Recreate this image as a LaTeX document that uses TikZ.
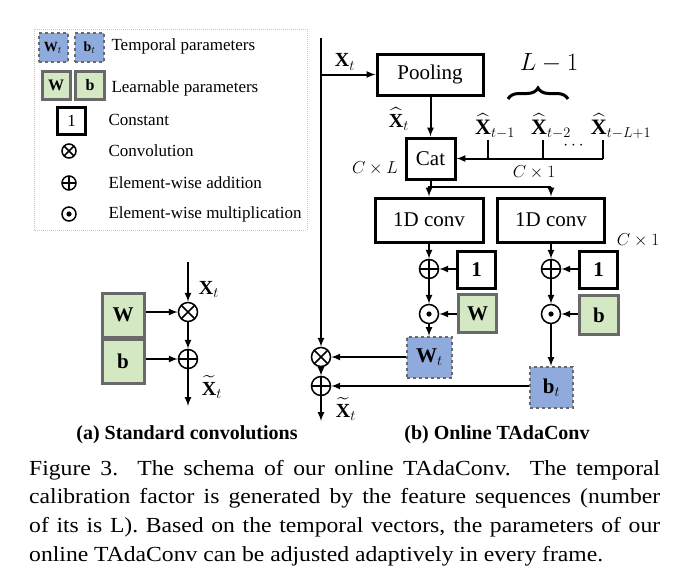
\documentclass[tikz,border=0pt]{standalone}
\usepackage{amsmath}
\usepackage{fontspec}
\setmainfont{Liberation Serif}
\newfontfamily\capfont[FakeStretch=1.1]{Liberation Serif}
\usetikzlibrary{decorations.pathreplacing}
\tikzset{>=latex}

\definecolor{tblue}{RGB}{143,170,220}
\definecolor{tgreen}{RGB}{213,232,196}
\definecolor{tgray}{RGB}{105,105,105}

\tikzset{
  blk/.style={draw=black, line width=3pt, fill=white, inner sep=0pt},
  tpar/.style={draw=tgray, dashed, line width=2pt, fill=tblue, inner sep=0pt},
  lpar/.style={draw=tgray, line width=3pt, fill=tgreen, inner sep=0pt},
  op/.style={circle, draw, line width=1.5pt, minimum size=#1, inner sep=0pt},
  op/.default=19pt,
  opconv/.style={op=#1, path picture={
      \draw[line width=1.5pt] (path picture bounding box.north west) -- (path picture bounding box.south east)
                              (path picture bounding box.north east) -- (path picture bounding box.south west);}},
  opconv/.default=19pt,
  opadd/.style={op=#1, path picture={
      \draw[line width=1.5pt] (path picture bounding box.north) -- (path picture bounding box.south)
                              (path picture bounding box.west) -- (path picture bounding box.east);}},
  opadd/.default=19pt,
  opmul/.style={op=#1, path picture={
      \fill (path picture bounding box.center) circle (2.6pt);}},
  opmul/.default=19pt,
  wire/.style={line width=2pt},
  legtxt/.style={anchor=west, font=\fontsize{17}{20}\selectfont},
  boxtxt/.style={font=\fontsize{21}{24}\selectfont},
  mlbl/.style={font=\fontsize{20}{22}\selectfont},
  hlbl/.style={font=\fontsize{22}{24}\selectfont, inner sep=0pt},
  slbl/.style={font=\fontsize{17}{20}\selectfont},
  subcap/.style={font=\fontsize{20}{23}\selectfont\bfseries},
}

\begin{document}
\begin{tikzpicture}[x=1pt, y=-1pt]
\useasboundingbox (0,0) rectangle (690,587);

  % Legend
  \draw[gray!45, densely dotted, line width=1pt] (34,29) rectangle (307,230);
  \node[tpar, minimum width=29pt, minimum height=29pt, font=\fontsize{14}{15}\selectfont] (lgWt) at (53,47.5) {$\mathbf{W}_t$};
  \node[tpar, minimum width=29pt, minimum height=29pt, font=\fontsize{14}{15}\selectfont] (lgbt) at (89.5,47.5) {$\mathbf{b}_t$};
  \node[lpar, minimum width=28pt, minimum height=28pt, font=\fontsize{16}{18}\selectfont\bfseries] (lgW) at (56,85) {W};
  \node[lpar, minimum width=29pt, minimum height=28pt, font=\fontsize{16}{18}\selectfont\bfseries] (lgb) at (90,85) {b};
  \node[blk, line width=2.5pt, minimum width=28pt, minimum height=27pt, font=\fontsize{17}{18}\selectfont] (lgone) at (71.5,121) {1};
  \node[opconv=14pt] (lgconv) at (69,151) {};
  \node[opadd=14pt]  (lgadd)  at (69,183) {};
  \node[opmul=14pt]  (lgmul)  at (69,214) {};
  \node[legtxt] (tTemp)  at (108,46)  {Temporal parameters};
  \node[legtxt] (tLearn) at (108,88)  {Learnable parameters};
  \node[legtxt] (tConst) at (105,120) {Constant};
  \node[legtxt] (tConv)  at (105,151) {Convolution};
  \node[legtxt] (tAdd)   at (105,183) {Element-wise addition};
  \node[legtxt] (tMul)   at (105,214) {Element-wise multiplication};

  % (a) standard convolution
  \coordinate (aIn)  at (188,262);
  \coordinate (aOut) at (188,406);
  \node[opconv] (aConv) at (188,312) {};
  \node[opadd]  (aAdd)  at (188,359) {};
  \node[lpar, minimum width=42pt, minimum height=44pt, boxtxt] (aW) at (123,315) {\bfseries W};
  \node[lpar, minimum width=42pt, minimum height=44pt, boxtxt] (ab) at (123,361) {\bfseries b};
  \draw[wire,->] (aIn) -- (aConv);
  \draw[wire,->] (aConv) -- (aAdd);
  \draw[wire,->] (aAdd) -- (aOut);
  \draw[wire,->] (aW.east |- aConv) -- (aConv);
  \draw[wire,->] (ab.east |- aAdd) -- (aAdd);
  \node[mlbl] (aXin)  at (209,289) {$\mathbf{X}_t$};
  \node[mlbl] (aXout) at (212,387) {$\widetilde{\mathbf{X}}_t$};
  \node[subcap] (capA) at (187,435) {(a) Standard convolutions};

  % (b) online TAdaConv
  \coordinate (bTop) at (321,38);
  \coordinate (bOut) at (321,421);
  \node[opconv] (bConv) at (321,357) {};
  \node[opadd]  (bAdd)  at (321,386) {};
  \node[blk, minimum width=106pt, minimum height=41pt, boxtxt] (pool) at (430,74.5) {Pooling};
  \node[blk, minimum width=49pt, minimum height=41pt, boxtxt] (cat) at (430.5,158.5) {Cat};
  \node[blk, minimum width=108pt, minimum height=44pt, boxtxt] (convL) at (429,220) {1D conv};
  \node[blk, minimum width=107pt, minimum height=44pt, boxtxt] (convR) at (551,220) {1D conv};
  \draw[wire,->] (bTop) -- (bConv);
  \draw[wire,->] (bConv) -- (bAdd);
  \draw[wire,->] (bAdd) -- (bOut);
  \draw[wire,->] (bTop |- pool) -- (pool.west);
  \draw[wire,->] (pool.south -| cat.north) -- (cat.north);
  \node[mlbl] (bXin) at (345,62) {$\mathbf{X}_t$};
  \node[mlbl] (bXh)  at (399,119) {$\widehat{\mathbf{X}}_t$};

  % previous features
  \coordinate (h1) at (488,140);
  \coordinate (h2) at (543,140);
  \coordinate (h3) at (603,140);
  \draw[wire,->] (h3 |- cat.east) -- (cat.east);
  \foreach \h in {h1,h2,h3}
    \draw[wire] (\h) -- (\h |- cat.east);
  \node[hlbl] (xh1) at (495,126) {$\widehat{\mathbf{X}}_{t-1}$};
  \node[hlbl] (xh2) at (551,126) {$\widehat{\mathbf{X}}_{t-2}$};
  \node[hlbl] (xh3) at (621,126) {$\widehat{\mathbf{X}}_{t-L+1}$};
  \node[font=\fontsize{16}{18}\selectfont] (dots) at (575,146) {$\cdots$};
  \draw[decorate, decoration={brace, amplitude=11pt}, line width=3pt] (508,99) -- (568,99);
  \node[font=\fontsize{25}{28}\selectfont] (Lm1) at (549,63) {$L-1$};
  \node[slbl] (cL)  at (375,168) {$C\times L$};
  \node[slbl] (c1a) at (534,172) {$C\times 1$};
  \node[slbl] (c1b) at (638,240) {$C\times 1$};

  % split to the two 1D convs
  \coordinate (sp) at (cat.south |- 0,187);
  \draw[wire] (cat.south) -- (sp) -- (sp -| convR.north);
  \draw[wire,->] (sp) -- (sp -| convL.north) -- (convL.north);
  \draw[wire,->] (sp -| convR.north) -- (convR.north);

  % left column: weight calibration
  \node[opadd] (lAdd) at (429,269) {};
  \node[opmul] (lMul) at (429,314) {};
  \node[blk, minimum width=38pt, minimum height=37pt, boxtxt] (lOne) at (476.5,270) {\bfseries 1};
  \node[lpar, minimum width=38pt, minimum height=38pt, boxtxt] (lW) at (477.5,313.5) {\bfseries W};
  \node[tpar, minimum width=45pt, minimum height=41pt, boxtxt] (Wt) at (429.5,357.5) {$\mathbf{W}_t$};
  \draw[wire,->] (convL.south) -- (lAdd);
  \draw[wire,->] (lAdd) -- (lMul);
  \draw[wire,->] (lMul) -- (lMul |- Wt.north);
  \draw[wire,->] (lOne.west |- lAdd) -- (lAdd);
  \draw[wire,->] (lW.west |- lMul) -- (lMul);
  \draw[wire,->] (Wt.west |- bConv) -- (bConv);

  % right column: bias calibration
  \node[opadd] (rAdd) at (551,269) {};
  \node[opmul] (rMul) at (551,314) {};
  \node[blk, minimum width=38pt, minimum height=37pt, boxtxt] (rOne) at (598.5,270) {\bfseries 1};
  \node[lpar, minimum width=39pt, minimum height=39pt, boxtxt] (rb) at (599,315) {\bfseries b};
  \node[tpar, minimum width=43pt, minimum height=41pt, boxtxt] (bt) at (551.5,387.5) {$\mathbf{b}_t$};
  \draw[wire,->] (convR.south) -- (rAdd);
  \draw[wire,->] (rAdd) -- (rMul);
  \draw[wire,->] (rMul) -- (rMul |- bt.north);
  \draw[wire,->] (rOne.west |- rAdd) -- (rAdd);
  \draw[wire,->] (rb.west |- rMul) -- (rMul);
  \draw[wire,->] (bt.west |- bAdd) -- (bAdd);
  \node[mlbl] (bXout) at (346,409) {$\widetilde{\mathbf{X}}_t$};
  \node[subcap] (capB) at (497,435) {(b) Online TAdaConv};

  % figure caption
  \node[anchor=north west, text width=631pt, align=justify, inner sep=0pt,
        font=\capfont\fontsize{21.5}{28.6}\selectfont] (caption) at (29,460)
    {Figure 3.\ \ The schema of our online TAdaConv.\ \ The temporal\linebreak
     calibration factor is generated by the feature sequences (number\linebreak
     of its is L). Based on the temporal vectors, the parameters of our\linebreak
     online TAdaConv can be adjusted adaptively in every frame.};
\end{tikzpicture}
\end{document}
